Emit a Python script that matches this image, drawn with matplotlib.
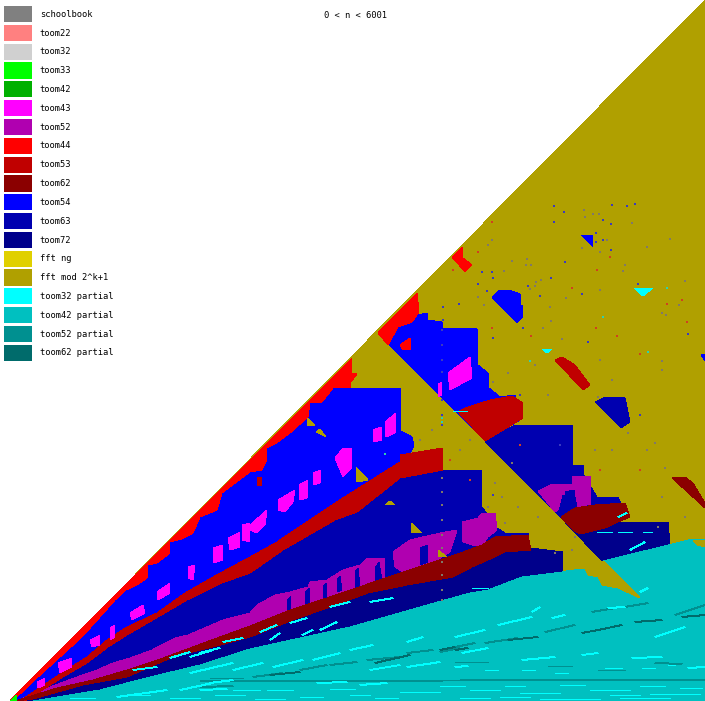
import matplotlib
matplotlib.use("Agg")
import matplotlib.pyplot as plt
from matplotlib.collections import LineCollection
from matplotlib.patches import Patch

# Threshold map. Coordinates are map cells (column, row),
# row 0 at the top, so every outline is simply what one reads on the map.
methods = ["schoolbook", "toom22", "toom32", "toom33", "toom42", "toom43", "toom52",
           "toom44", "toom53", "toom62", "toom54", "toom63", "toom72", "fft ng",
           "fft mod 2^k+1", "toom32 partial", "toom42 partial", "toom52 partial",
           "toom62 partial"]
method_colors = ["#808080", "#ff8080", "#d0d0d0", "#00ff00", "#00b000", "#ff00ff", "#b000b0",
                 "#ff0000", "#c00000", "#8b0000", "#0000ff", "#0000b0", "#00008b", "#e0d000",
                 "#b0a000", "#00ffff", "#00c0c0", "#009090", "#006b6b"]
range_label = "0 < n < 6001"

fft_mod_area = [[(10, 701), (705, 701), (705, 0)]]

toom54_areas = [
    [(10, 701), (352, 358), (352, 373), (350, 388), (401, 388), (401, 431), (412, 437), (414, 446),
     (401, 470), (335, 511), (250, 565), (187, 597), (127, 631), (63, 675), (20, 701)],
    [(378, 334), (417, 315), (427, 313), (428, 320), (442, 322), (443, 328), (477, 329), (478, 365),
     (488, 373), (489, 388), (500, 397), (515, 395), (520, 420), (485, 441)],
    [(492, 297), (499, 290), (512, 291), (520, 294), (521, 305), (523, 306), (523, 317), (517, 323)],
    [(581, 235), (593, 235), (593, 247)],
    [(701, 355), (705, 354), (705, 361)],
]

toom63_areas = [
    [(20, 701), (63, 675), (127, 631), (187, 597), (250, 565), (335, 511), (400, 470), (442, 460),
     (442, 470), (482, 470), (482, 507), (497, 528), (505, 533), (528, 533), (530, 550), (480, 575),
     (250, 650), (30, 701)],
    [(485, 441), (515, 425), (572, 425), (573, 465), (583, 465), (584, 475), (591, 487), (597, 497),
     (618, 497), (628, 517), (610, 524), (570, 527), (565, 522)],
    [(595, 402), (605, 397), (625, 398), (630, 422), (621, 428)],
]

toom72_areas = [
    [(15, 701), (250, 630), (403, 575), (482, 545), (530, 548), (563, 552), (563, 578), (250, 660),
     (150, 690), (60, 701)],
    [(565, 522), (578, 533), (618, 522), (668, 522), (670, 545), (603, 562)],
]

toom52_areas = [
    [(23, 698), (50, 687), (77, 677), (97, 670), (113, 663), (130, 658), (152, 650), (175, 638),
     (188, 635), (223, 620), (250, 613), (257, 605), (275, 595), (290, 592), (308, 587), (310, 582),
     (327, 580), (343, 570), (360, 565), (368, 558), (385, 558), (384, 578), (363, 590), (330, 602),
     (250, 630), (127, 672), (57, 690)],
    [(395, 567), (393, 552), (410, 540), (427, 536), (445, 532), (457, 530), (450, 552), (437, 560),
     (403, 572)],
    [(462, 522), (478, 518), (482, 513), (495, 513), (497, 530), (488, 537), (483, 544), (475, 546),
     (463, 542)],
    [(538, 491), (552, 484), (572, 484), (573, 476), (590, 476), (591, 504), (578, 507), (575, 492),
     (562, 495), (558, 510), (555, 512)],
]

# dark gaps between the toom52 blocks
toom52_gaps = [
    [(420, 548), (428, 545), (428, 562), (420, 565)],
    [(375, 568), (379, 562), (382, 580), (375, 583)],
    [(355, 572), (358, 568), (360, 586), (355, 588)],
    [(337, 580), (340, 576), (342, 590), (337, 592)],
    [(323, 587), (326, 583), (327, 598), (323, 600)],
    [(305, 592), (309, 588), (310, 603), (305, 605)],
    [(287, 600), (291, 596), (291, 612), (287, 614)],
    [(565, 492), (574, 490), (576, 506), (566, 508)],
]

toom53_areas = [
    [(20, 701), (63, 672), (87, 657), (107, 640), (127, 627), (157, 613), (185, 593), (213, 577),
     (250, 557), (277, 542), (335, 503), (400, 462), (400, 455), (442, 448), (443, 470), (400, 478),
     (357, 512), (335, 520), (283, 550), (250, 573), (222, 583), (187, 600), (158, 617), (127, 635),
     (108, 647), (87, 663), (63, 677), (25, 701)],
    [(458, 412), (485, 441), (523, 418), (523, 403), (512, 396), (490, 400), (465, 408)],
    [(555, 360), (562, 357), (575, 365), (590, 385), (583, 390)],
    [(257, 478), (262, 477), (262, 485), (257, 486)],
]

toom62_areas = [
    [(15, 701), (57, 688), (93, 680), (127, 670), (163, 658), (190, 648), (217, 638), (250, 626),
     (290, 610), (327, 598), (403, 572), (463, 552), (482, 545), (495, 537), (528, 535), (531, 550),
     (505, 552), (488, 560), (472, 567), (453, 577), (407, 585), (368, 593), (330, 607), (293, 620),
     (250, 637), (213, 647), (173, 657), (127, 677), (83, 685), (33, 699)],
    [(561, 517), (575, 508), (595, 505), (625, 503), (630, 517), (618, 522), (605, 528), (580, 534),
     (573, 530)],
    [(672, 478), (685, 477), (693, 483), (705, 503), (705, 508)],
]

toom44_areas = [
    [(10, 701), (352, 358), (352, 373), (357, 374), (351, 382), (350, 388), (333, 388), (322, 402),
     (310, 403), (308, 417), (290, 433), (278, 442), (267, 448), (267, 460), (262, 470), (250, 472),
     (222, 493), (217, 510), (200, 517), (193, 533), (182, 539), (170, 542), (170, 553), (157, 563),
     (148, 565), (147, 578), (137, 585), (126, 590), (115, 600), (100, 617), (82, 637), (60, 657),
     (38, 677), (20, 694)],
    [(378, 333), (417, 293), (419, 312), (412, 322), (398, 327), (388, 345)],
    [(400, 345), (410, 338), (411, 350), (403, 350)],
    [(462, 247), (452, 257), (465, 272), (472, 265), (463, 258)],
]

toom43_areas = [
    [(448, 373), (470, 357), (472, 378), (450, 390)],
    [(438, 384), (442, 382), (442, 395), (438, 397)],
    [(373, 430), (381, 427), (382, 440), (374, 442)],
    [(385, 422), (396, 413), (395, 433), (386, 437)],
    [(335, 458), (343, 448), (352, 448), (352, 467), (343, 477)],
    [(313, 473), (321, 470), (320, 483), (313, 485)],
    [(299, 485), (308, 480), (307, 498), (300, 500)],
    [(278, 500), (295, 490), (293, 502), (285, 512), (278, 510)],
    [(250, 525), (267, 510), (265, 525), (257, 533), (250, 530)],
    [(242, 525), (250, 523), (250, 542), (242, 540)],
    [(228, 538), (240, 532), (240, 547), (230, 550)],
    [(213, 548), (223, 545), (223, 560), (213, 563)],
    [(188, 567), (195, 565), (193, 580), (188, 578)],
    [(157, 592), (170, 583), (170, 593), (158, 600)],
    [(130, 613), (143, 605), (145, 613), (132, 620)],
    [(110, 628), (115, 625), (115, 637), (110, 640)],
    [(90, 640), (100, 635), (100, 645), (92, 647)],
    [(58, 663), (72, 658), (72, 667), (60, 673)],
    [(37, 682), (45, 678), (45, 685), (38, 688)],
]

toom42_partial_area = [[(33, 701), (100, 690), (150, 677), (200, 665), (250, 649), (350, 627),
                        (427, 605), (470, 593), (488, 590), (522, 577), (562, 572), (583, 567),
                        (603, 561), (693, 539), (705, 540), (705, 701)]]

# tail of the fft stripe lying over the cyan wedge and the small fft islands in the blue
fft_mod_islands = [
    [(563, 570), (583, 566), (604, 561), (640, 598), (618, 588), (602, 585), (598, 577), (588, 575),
     (585, 568)],
    [(693, 541), (705, 540), (705, 547), (697, 545)],
    [(307, 418), (315, 425), (307, 426)],
    [(316, 432), (320, 429), (326, 437)],
    [(356, 467), (368, 480), (357, 482)],
    [(385, 505), (390, 501), (395, 505)],
    [(411, 523), (422, 533), (412, 533)],
    [(438, 550), (447, 557), (438, 557)],
]

toom33_area = [[(10, 701), (16, 695), (17, 701)]]

toom32_partial_areas = [
    [(634, 288), (653, 288), (643, 296)],
    [(542, 349), (552, 349), (547, 353)],
]

toom32_partial_streaks = [
    (290, 623, 307, 618), (320, 630, 337, 622), (260, 632, 277, 625), (223, 642, 243, 638),
    (270, 640, 280, 633), (302, 635, 313, 630), (200, 653, 220, 648), (330, 607, 350, 602),
    (370, 602, 393, 598), (190, 657, 213, 650), (133, 670, 157, 667), (170, 658, 190, 652),
    (472, 588, 488, 588), (630, 550, 645, 542), (643, 532, 652, 532), (597, 532, 612, 532),
    (618, 532, 632, 532), (618, 517, 627, 513), (453, 411, 467, 411), (455, 637, 485, 630),
    (498, 625, 532, 617), (532, 612, 540, 607), (552, 618, 565, 615), (608, 608, 625, 607),
    (640, 592, 648, 588), (655, 637, 685, 627), (462, 653, 488, 648), (522, 660, 555, 657),
    (582, 655, 598, 653), (632, 658, 662, 657), (668, 665, 675, 665), (455, 667, 468, 666),
    (485, 670, 498, 670), (522, 670, 535, 670), (555, 673, 568, 673), (605, 668, 622, 668),
    (642, 668, 655, 668), (688, 668, 705, 667), (407, 642, 423, 637), (350, 650, 373, 645),
    (313, 660, 340, 653), (273, 667, 303, 660), (233, 670, 263, 663), (210, 683, 233, 680),
    (370, 670, 400, 665), (407, 667, 440, 662), (317, 683, 347, 682), (360, 685, 387, 683),
    (233, 690, 260, 690), (200, 690, 227, 689), (267, 690, 293, 690), (300, 697, 323, 697),
    (350, 695, 370, 695), (180, 690, 213, 683), (117, 697, 167, 690), (190, 673, 233, 663),
    (470, 690, 500, 690), (520, 693, 560, 693), (590, 690, 630, 690), (650, 694, 700, 694),
    (460, 698, 490, 698), (540, 699, 600, 699), (620, 698, 670, 698), (400, 692, 440, 692),
    (70, 698, 95, 698), (130, 695, 150, 695), (170, 698, 200, 698), (215, 695, 245, 695),
    (255, 699, 285, 699), (330, 689, 355, 689), (375, 698, 398, 698), (440, 686, 465, 686),
    (505, 686, 525, 686), (560, 685, 585, 685), (640, 686, 665, 686), (680, 688, 702, 688),
    (500, 697, 530, 697), (610, 695, 640, 695),
]

toom52_partial_streaks = [
    (455, 647, 475, 643), (485, 643, 518, 638), (592, 612, 615, 608), (625, 607, 648, 603),
    (675, 615, 705, 605), (545, 632, 575, 625), (200, 681, 705, 680), (455, 662, 488, 662),
    (548, 666, 572, 666), (598, 670, 625, 670), (655, 663, 682, 664), (300, 670, 327, 665),
    (330, 665, 357, 662), (367, 660, 400, 657), (407, 653, 433, 650), (440, 652, 460, 648),
    (253, 677, 283, 673), (210, 678, 243, 678), (200, 687, 233, 686),
]

toom62_partial_streaks = [
    (508, 640, 538, 637), (598, 630, 622, 625), (635, 622, 662, 620), (682, 617, 705, 615),
    (455, 650, 468, 648), (582, 633, 598, 630), (375, 663, 410, 655), (270, 675, 300, 672),
    (440, 650, 455, 647),
]

# single stray cells
strays_blue = [(554, 206), (564, 212), (554, 222), (612, 205), (627, 206), (635, 204), (603, 220),
               (611, 224), (596, 233), (596, 242), (603, 240), (611, 250), (565, 262), (482, 272),
               (492, 272), (478, 284), (493, 278), (540, 296), (528, 286), (582, 294), (487, 291),
               (551, 278), (638, 284), (588, 342), (523, 328), (493, 338), (688, 334), (443, 307),
               (443, 320), (459, 304), (442, 330), (442, 345), (442, 360), (442, 372), (442, 400),
               (442, 415), (442, 425), (493, 495), (560, 445), (640, 415), (520, 395)]
strays_grey = [(584, 210), (593, 214), (599, 214), (585, 217), (632, 223), (670, 239), (647, 247),
               (600, 252), (607, 240), (582, 248), (625, 265), (623, 271), (685, 281), (600, 290),
               (566, 298), (526, 265), (531, 265), (512, 261), (527, 259), (488, 245), (492, 240),
               (504, 271), (536, 282), (541, 280), (535, 286), (530, 289), (551, 321), (550, 307),
               (478, 297), (484, 305), (679, 305), (662, 313), (666, 315), (543, 328), (562, 339),
               (600, 360), (662, 361), (493, 382), (508, 373), (535, 365), (548, 395), (612, 380),
               (662, 370), (647, 450), (665, 468), (628, 433), (595, 450), (612, 450), (655, 443),
               (598, 397), (662, 497), (658, 527), (685, 517), (488, 507), (505, 523), (538, 517),
               (555, 553), (572, 550), (575, 537), (518, 507), (502, 497), (495, 483), (512, 463),
               (442, 478), (442, 492), (442, 505), (442, 520), (442, 535), (442, 548), (442, 562),
               (442, 575), (442, 590), (442, 600), (420, 440), (432, 430), (460, 450), (470, 440)]
strays_red = [(492, 222), (478, 252), (597, 270), (572, 288), (610, 257), (682, 300), (667, 304),
              (687, 322), (596, 328), (617, 336), (640, 354), (492, 328), (531, 336), (453, 270),
              (520, 445), (450, 460), (470, 480), (600, 470), (640, 470)]
strays_cyan = [(667, 288), (603, 317), (648, 352), (530, 361), (442, 418), (442, 422), (385, 454)]

# painter's order, back to front
layers = [
    (fft_mod_area, "fft mod 2^k+1"),
    (toom54_areas, "toom54"),
    (toom63_areas, "toom63"),
    (toom72_areas, "toom72"),
    (toom52_areas, "toom52"),
    (toom52_gaps, "toom63"),
    (toom53_areas, "toom53"),
    (toom62_areas, "toom62"),
    (toom44_areas, "toom44"),
    (toom43_areas, "toom43"),
    (toom42_partial_area, "toom42 partial"),
    (fft_mod_islands, "fft mod 2^k+1"),
    (toom33_area, "toom33"),
    (toom32_partial_areas, "toom32 partial"),
]

color_of = dict(zip(methods, method_colors))

fig = plt.figure(figsize=(7.05, 7.01), dpi=100)
ax = fig.add_axes([0, 0, 1, 1])
ax.set_xlim(0, 705)
ax.set_ylim(701, 0)
ax.axis("off")

for areas, method in layers:
    for outline in areas:
        xs, ys = zip(*outline)
        ax.fill(xs, ys, color=color_of[method], linewidth=0, antialiased=False)

# streaks in the partial wedge
for streaks, method in [(toom52_partial_streaks, "toom52 partial"),
                        (toom62_partial_streaks, "toom62 partial"),
                        (toom32_partial_streaks, "toom32 partial")]:
    segments = [[(x0, y0), (x1, y1)] for x0, y0, x1, y1 in streaks]
    ax.add_collection(LineCollection(segments, colors=color_of[method], linewidths=0.7,
                                     antialiaseds=False))

for strays, color in [(strays_blue, "#3a3ac0"), (strays_grey, "#807868"),
                      (strays_red, "#d04020"), (strays_cyan, "#30d0b0")]:
    xs, ys = zip(*strays)
    ax.scatter(xs, ys, s=1.2, c=color, marker="s", linewidths=0)

handles = [Patch(facecolor=c, edgecolor="none") for c in method_colors]
ax.legend(handles, methods, loc="upper left", bbox_to_anchor=(4 / 705, 1 - 6 / 701), frameon=False,
          prop={"family": "DejaVu Sans Mono", "size": 6.3}, handlelength=3.2, handleheight=2.47,
          handletextpad=0.9, labelspacing=0.3, borderpad=0, borderaxespad=0)
ax.text(356, 16, range_label, family="DejaVu Sans Mono", fontsize=6.3, ha="center", va="center")

fig.savefig("out.png", dpi=100)
